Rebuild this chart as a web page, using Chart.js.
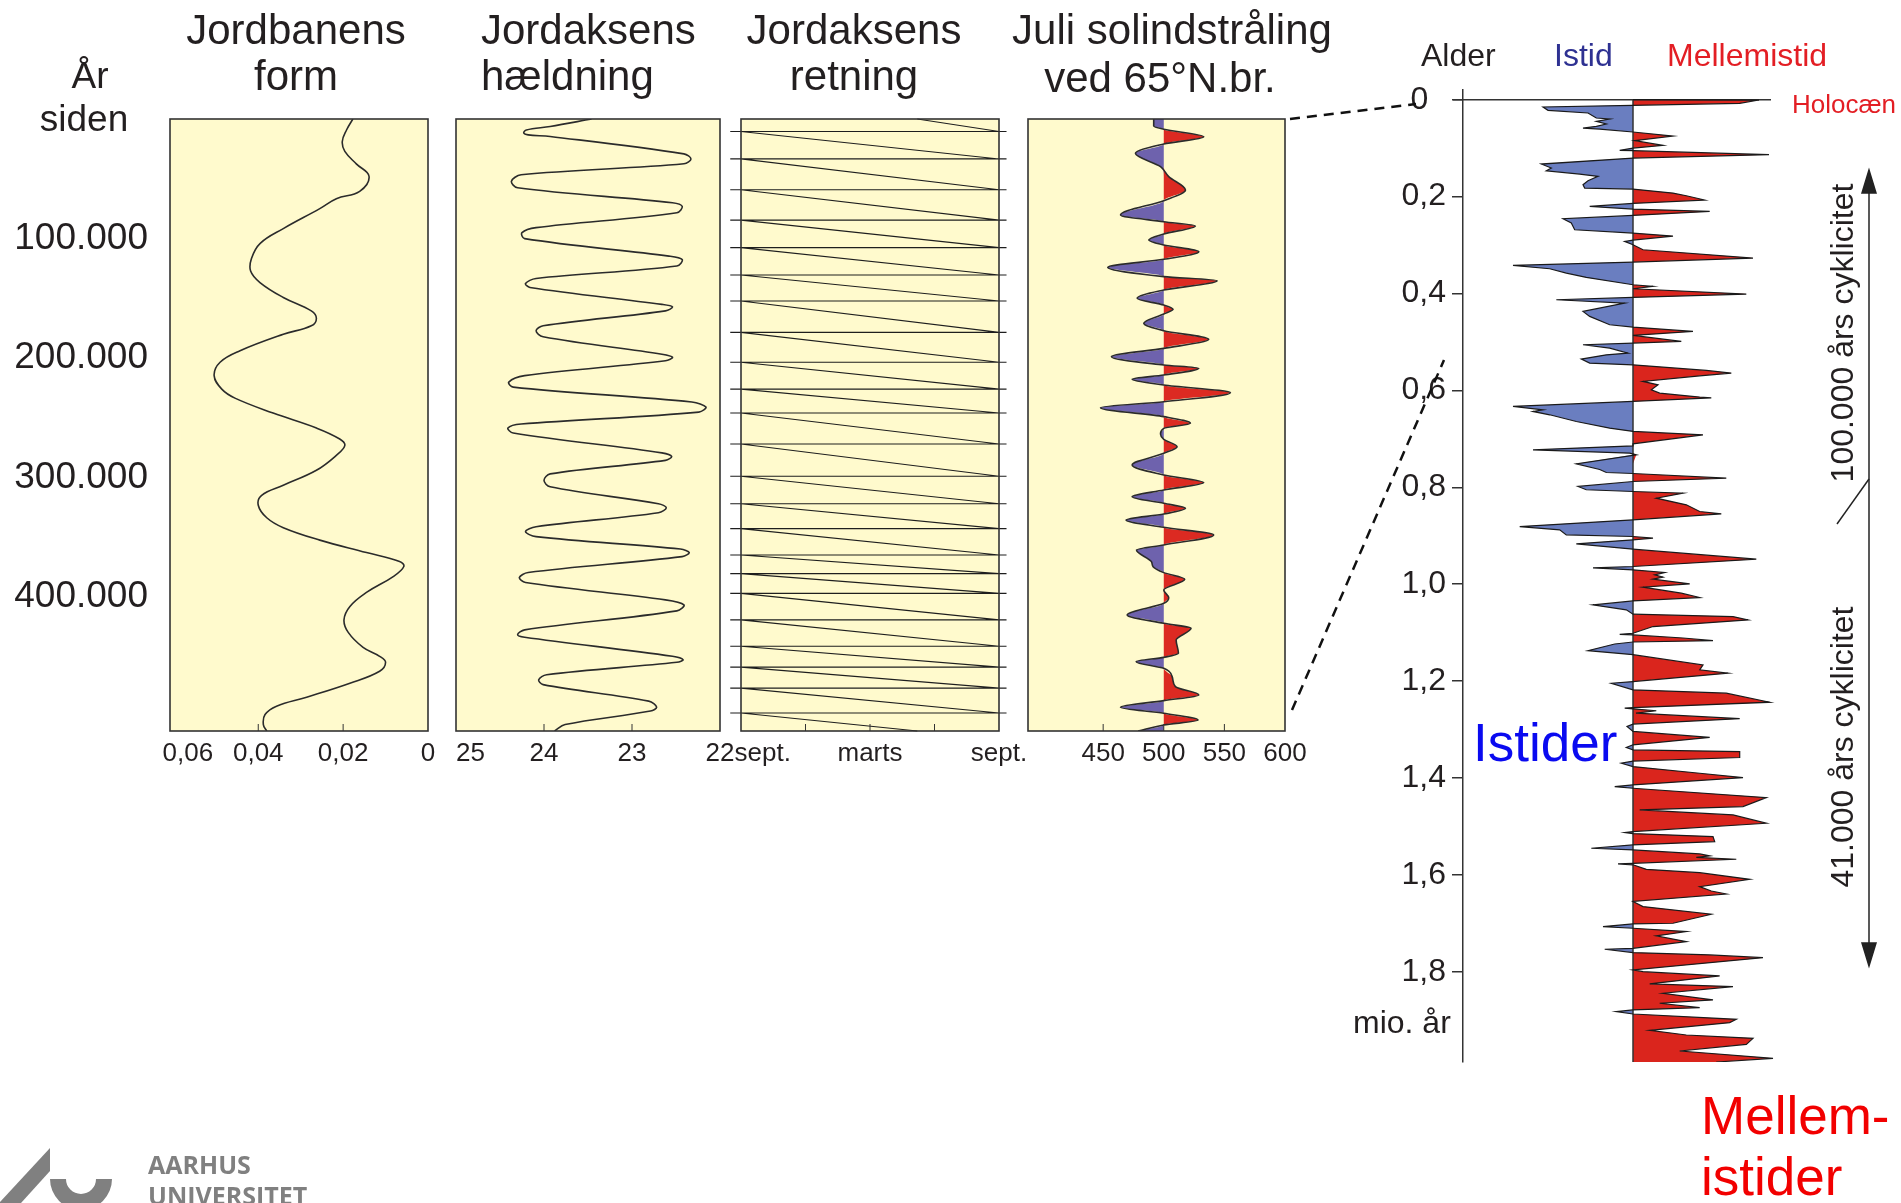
<!DOCTYPE html>
<html>
<head>
<meta charset="utf-8">
<title>Istider og Milankovitch-cykler</title>
<script src="https://cdn.jsdelivr.net/npm/chart.js@4.4.1/dist/chart.umd.min.js"></script>
<style>
  html, body { margin: 0; padding: 0; background: #fff; }
  #page { position: relative; width: 1901px; height: 1203px; overflow: hidden;
          font-family: "Liberation Sans", Arial, sans-serif; color: #231f20; }
  #page canvas { position: absolute; }
  .txt { position: absolute; white-space: nowrap; line-height: 1; transform: translateY(-50%); }
  .mid { transform: translate(-50%, -50%); }
  .vert { transform: translate(-50%, -50%) rotate(-90deg); }
  svg { position: absolute; left: 0; top: 0; }
</style>
</head>
<body>
<div id="page">
  <canvas id="eccChart" width="470" height="800" style="left:0px;top:0px"></canvas>
  <canvas id="oblChart" width="384" height="800" style="left:396px;top:0px"></canvas>
  <canvas id="precChart" width="378" height="800" style="left:681px;top:0px"></canvas>
  <canvas id="insolChart" width="377" height="800" style="left:968px;top:0px"></canvas>
  <canvas id="climateChart" width="500" height="1032" style="left:1330px;top:60px"></canvas>

  <!-- overskrifter -->
  <div class="txt mid" style="left:90px;top:75px;font-size:37px">År</div>
  <div class="txt mid" style="left:84px;top:118px;font-size:37px">siden</div>
  <div class="txt mid" style="left:296px;top:30px;font-size:42px">Jordbanens</div>
  <div class="txt mid" style="left:296px;top:76px;font-size:42px">form</div>
  <div class="txt" style="left:481px;top:30px;font-size:42px">Jordaksens</div>
  <div class="txt" style="left:481px;top:76px;font-size:42px">hældning</div>
  <div class="txt mid" style="left:854px;top:30px;font-size:42px">Jordaksens</div>
  <div class="txt mid" style="left:854px;top:76px;font-size:42px">retning</div>
  <div class="txt mid" style="left:1172px;top:30px;font-size:42px">Juli solindstråling</div>
  <div class="txt mid" style="left:1160px;top:78px;font-size:42px">ved 65°N.br.</div>

  <div class="txt" style="left:1421px;top:55px;font-size:32px">Alder</div>
  <div class="txt" style="left:1554px;top:55px;font-size:32px;color:#2e3192">Istid</div>
  <div class="txt" style="left:1667px;top:55px;font-size:32px;color:#e31e24">Mellemistid</div>
  <div class="txt" style="left:1792px;top:104px;font-size:26px;color:#e31e24">Holocæn</div>
  <div class="txt" style="left:1353px;top:1022px;font-size:32px">mio. år</div>
  <div class="txt" style="left:1473px;top:742px;font-size:53px;color:#0a0af0">Istider</div>
  <div class="txt" style="left:1701px;top:1115px;font-size:53px;color:#f20000">Mellem-</div>
  <div class="txt" style="left:1701px;top:1176px;font-size:53px;color:#f20000">istider</div>
  <div class="txt vert" style="left:1842px;top:333px;font-size:32px">100.000 års cyklicitet</div>
  <div class="txt vert" style="left:1842px;top:747px;font-size:32px">41.000 års cyklicitet</div>

  <svg width="1901" height="1203">
    <g stroke="#111" stroke-width="2.5" stroke-dasharray="10 7" fill="none">
      <line x1="1290" y1="119" x2="1416" y2="104"/>
      <line x1="1292" y1="710" x2="1444" y2="360"/>
    </g>
    <g stroke="#222" stroke-width="1.5" fill="#222">
      <line x1="1869" y1="185" x2="1869" y2="952"/>
      <line x1="1837" y1="524" x2="1869" y2="479"/>
      <polygon points="1869,170 1862,193 1876,193"/>
      <polygon points="1869,966 1862,943 1876,943"/>
    </g>
    <g fill="#808080">
      <polygon points="50,1148 50,1171 21,1203 0,1203 0,1202"/>
      <path d="M50,1179 A31,31 0 0 0 112,1179 L96,1179 A15,15 0 0 1 66,1179 Z"/>
      <text x="148" y="1174" font-family="'Open Sans', sans-serif" font-weight="700" font-size="25">AARHUS</text>
      <text x="148" y="1205" font-family="'Open Sans', sans-serif" font-weight="700" font-size="25">UNIVERSITET</text>
    </g>
  </svg>
</div>

<script>
// fælles tidsakse for de fire paneler (tusind år siden)
const ageTicks = [100, 200, 300, 400];
const ageTickLabels = ['100.000', '200.000', '300.000', '400.000'];

// Jordbanens form (excentricitet): [tusind år, værdi]
const eccentricity = [
  [0, 0.0177], [9.2, 0.0192], [18.8, 0.0202], [27.1, 0.0196], [37.5, 0.0169], [47.9, 0.0139],
  [60.5, 0.0161], [66.7, 0.0216], [75, 0.0255], [91.7, 0.0341], [104.2, 0.0396], [116.7, 0.0416],
  [127.2, 0.0418], [136.8, 0.0396], [149.3, 0.0341], [160.5, 0.0275], [166.8, 0.0263], [173, 0.0275],
  [180.1, 0.0341], [193.9, 0.0443], [203.5, 0.0490], [214.7, 0.0504], [226, 0.0486], [233.5, 0.0455],
  [246, 0.0365], [258.5, 0.0263], [267.7, 0.0208], [273.1, 0.0196], [281.4, 0.0216], [293.9, 0.0263],
  [306.4, 0.0341], [314.8, 0.0392], [323.1, 0.0400], [333.6, 0.0380], [341.9, 0.0341], [352.3, 0.0255],
  [362.7, 0.0145], [370.2, 0.0067], [374.4, 0.0057], [382.8, 0.0082], [396.1, 0.0145], [407.8, 0.0184],
  [419, 0.0198], [429.5, 0.0188], [442, 0.0153], [449.5, 0.0114], [454.5, 0.0100], [462, 0.0114],
  [472, 0.0184], [483.7, 0.0286], [491.2, 0.0357], [498.2, 0.0384], [506.6, 0.0388], [512, 0.0380]
];
const eccTicks = [0, 0.02, 0.04, 0.06];
const eccTickLabels = ['0', '0,02', '0,04', '    0,06'];

// Jordaksens hældning (grader)
const obliquity = [
  [0, 23.46], [6.3, 23.93], [9.2, 24.20], [11.7, 24.23], [13.3, 24.18], [14.6, 23.93],
  [29.2, 22.41], [33.4, 22.33], [37.5, 22.41], [46.7, 24.26], [52.1, 24.37], [57.5, 24.30],
  [70.0, 22.54], [73.0, 22.43], [78.4, 22.49], [90.9, 24.09], [95.1, 24.25], [100.1, 24.22],
  [114.7, 22.58], [117.6, 22.43], [123.0, 22.49], [133.4, 24.09], [137.6, 24.21], [140.9, 24.16],
  [155.1, 22.66], [157.2, 22.54], [160.5, 22.62], [173.0, 24.01], [177.2, 24.09], [182.2, 24.01],
  [196.8, 22.66], [199.3, 22.54], [202.2, 22.62], [214.7, 24.22], [220.1, 24.40], [224.3, 24.35],
  [236.8, 22.32], [241.0, 22.16], [245.2, 22.24], [255.2, 24.26], [258.5, 24.41], [262.7, 24.35],
  [279.3, 22.66], [282.3, 22.55], [285.6, 22.62], [296.9, 23.93], [302.3, 24.00], [307.7, 23.93],
  [321.9, 22.70], [325.2, 22.61], [329.4, 22.70], [341.1, 24.09], [345.2, 24.21], [349.4, 24.09],
  [359.8, 22.45], [362.7, 22.35], [366.1, 22.43], [379.4, 24.18], [383.6, 24.28], [387.8, 24.21],
  [402.3, 22.62], [406.5, 22.41], [411.5, 22.49], [427.4, 24.22], [431.5, 24.30], [433.6, 24.22],
  [449.5, 22.54], [452.4, 22.42], [454.5, 22.49], [464.9, 23.97], [469.1, 24.06], [473.2, 24.01],
  [487.0, 22.81], [492.0, 22.72], [495.3, 22.79], [506.6, 23.76], [512.0, 23.88]
];
const oblTicks = [22, 23, 24, 25];
const oblTickLabels = ['22', '23', '24', '    25'];

// Jordaksens retning: tidspunkter (tusind år) hvor kurven springer tilbage til sept.
const precessionJumps = [10.4, 33.4, 59.2, 84.6, 107.6, 130.5, 152.2, 178.5, 203.5, 226, 246, 271.9,
  298.9, 321.9, 342.7, 364.8, 380.3, 396.9, 419, 441.1, 458.6, 476.1, 497];
const precessionStart = 8.2;  // måneder efter sept. ved år 0
const precessionEnd = 8.2;    // måneder efter sept. ved 512.000 år
const precTicks = [0, 3, 6, 9, 12];
const precTickLabels = ['      sept.', '', 'marts', '', 'sept.'];

// Juli solindstråling ved 65°N (W/m2)
const insolation = [
  [0, 491.7], [5.9, 491.7], [8.6, 500], [14.8, 533], [20.9, 500], [28.7, 476.6], [39.9, 497.3],
  [48.2, 504.1], [59.4, 517.9], [68.3, 500], [80.3, 464.3], [85.9, 500], [89.5, 526.1], [96.2, 500],
  [101.2, 487.6], [105.4, 500], [111, 528.9], [117.4, 500], [124.1, 453.8], [131.9, 500], [135.3, 544],
  [143.1, 500], [150, 478], [155.6, 500], [159.2, 507.7], [163.1, 500], [170.9, 483.5], [177.1, 500],
  [184.3, 537.1], [191.9, 500], [198.8, 456.8], [205.8, 500], [208.6, 528.9], [214.2, 500],
  [217.8, 473.9], [222.5, 500], [229, 555], [236.5, 500], [241.5, 447.8], [249, 500], [254.6, 522],
  [258.8, 500], [263.5, 497.3], [268, 500], [274.1, 511], [279.7, 500], [289.5, 473.9], [297.8, 500],
  [304.2, 533], [310.4, 500], [316, 473.9], [321.5, 500], [325.7, 517.9], [330.5, 500], [335.5, 468.9],
  [341.6, 500], [348, 541.2], [356.4, 500], [360.6, 477.5], [370.3, 489.8], [374.5, 491.2], [379.5, 500],
  [385.1, 517.3], [394, 500], [400.5, 504.1], [405.2, 500], [415, 469.8], [421.9, 500], [426.1, 522.5],
  [435.9, 510.2], [447, 512.1], [450.4, 500], [454, 477.2], [459.6, 500], [466.5, 506.9], [474.9, 509.6],
  [481.9, 528.9], [486.6, 500], [492.2, 464.3], [497.2, 500], [502.8, 528.3], [507, 500], [512, 478.8]
];
const insolMean = 500;
const insolTicks = [450, 500, 550, 600];

// istid/mellemistid-kurven: [mio. år, udslag] (negativ = istid, positiv = mellemistid)
const climateRecord = [
  [0, 0], [0.0007, 12.6], [0.0076, 10.67], [0.0117, 0], [0.0151, -9], [0.022, -8.5], [0.0275, -4.5],
  [0.0378, -3.67], [0.0399, -2.33], [0.0447, -3.67], [0.0502, -2.67], [0.055, -3.67], [0.0585, -5],
  [0.0606, -3.33], [0.0667, 0], [0.075, 4], [0.0846, 0.17], [0.0943, 3], [0.0998, 0], [0.1046, -1.33],
  [0.1053, 0], [0.1135, 13.6], [0.1204, 0], [0.1328, -9.17], [0.1411, -8.17], [0.1466, -8.67],
  [0.1535, -5.33], [0.1583, -3.5], [0.1672, -4.5], [0.1755, -5], [0.1824, -4.83], [0.1844, 0],
  [0.1927, 4], [0.1982, 5.33], [0.2071, 7.17], [0.214, 0], [0.2202, -4.33], [0.2257, 0], [0.2305, 7.67],
  [0.2388, 0], [0.2457, -7], [0.2546, -6.17], [0.2684, -5.83], [0.2753, 0], [0.2814, 4], [0.2897, 0],
  [0.2925, -0.83], [0.2993, 0], [0.3097, 1], [0.3269, 12], [0.3351, 0], [0.342, -12], [0.3489, -8.33],
  [0.3578, -6.67], [0.3668, -4.67], [0.3819, 0], [0.3854, 2], [0.3902, 0], [0.4012, 11.33], [0.4081, 0],
  [0.4129, -7.67], [0.4198, -0.83], [0.437, -5], [0.4473, -4.33], [0.4645, -2.33], [0.4693, 0],
  [0.4783, 6], [0.4865, 0], [0.4989, 4.83], [0.5023, 0], [0.5058, -5], [0.5127, -2.33], [0.523, -0.5],
  [0.5265, -2.67], [0.5354, -5.17], [0.5437, -4.33], [0.5471, 0], [0.5588, 7.33], [0.5643, 9.83],
  [0.5698, 6.67], [0.5815, 1], [0.5884, 2.5], [0.5987, 1.83], [0.6056, 2.67], [0.6138, 6.67],
  [0.6152, 7.83], [0.6228, 0], [0.6331, -12], [0.64, -9], [0.6434, -10], [0.6503, -8.33],
  [0.6641, -5.67], [0.6779, -2.33], [0.6847, 0], [0.6916, 7], [0.7102, 0], [0.7143, 0], [0.7226, -10],
  [0.7295, -0.33], [0.7329, 0.33], [0.7515, -5.67], [0.7632, -3.33], [0.7694, -2.67], [0.7715, 0],
  [0.7811, 9.33], [0.788, 0], [0.7982, -5.5], [0.805, -4.67], [0.8086, 0], [0.812, 5], [0.8224, 2.33],
  [0.8361, 5.33], [0.8499, 6.67], [0.8547, 8.83], [0.8671, 0], [0.8809, -11.33], [0.8877, -7.33],
  [0.8981, -6.67], [0.9015, 0], [0.905, 2], [0.9084, 0], [0.9166, -5.67], [0.9276, 0], [0.9483, 12.33],
  [0.9634, 0], [0.9661, -4], [0.9703, 0], [0.9758, 3.17], [0.9806, 2.17], [0.9854, 3], [0.9896, 2],
  [0.9992, 5.67], [1.0061, 1], [1.0185, 4.83], [1.0274, 6.67], [1.0344, 0], [1.0426, -4],
  [1.0529, -0.67], [1.0618, 0], [1.0667, 10], [1.0736, 11.5], [1.0873, 2], [1.1011, 0], [1.1033, -1.33],
  [1.1047, 0], [1.111, 5], [1.1165, 8], [1.1192, 0], [1.1233, -1.83], [1.137, -4.5], [1.1454, 0],
  [1.1665, 7], [1.1767, 6.67], [1.1836, 9.5], [1.2008, 0], [1.2043, -2.17], [1.218, 0], [1.2249, 9.33],
  [1.2435, 13.67], [1.2547, 0], [1.2558, -0.83], [1.2572, 0], [1.2611, 2.33], [1.2661, 0.3],
  [1.2774, 10.67], [1.2886, 0], [1.2935, -0.6], [1.3037, 0], [1.3161, 7.67], [1.3314, 0],
  [1.337, -0.67], [1.3419, 0], [1.3454, 10.67], [1.3576, 10.67], [1.3649, 0], [1.3694, -1.17],
  [1.3763, 0], [1.3901, 6.67], [1.3991, 11], [1.4142, 0], [1.4177, -1.83], [1.421, 0], [1.4403, 13.33],
  [1.4589, 11], [1.4658, 0.67], [1.4761, 10], [1.4933, 13.33], [1.5105, 0], [1.5125, -0.8],
  [1.5145, 0], [1.5208, 8], [1.5311, 8.17], [1.538, 0], [1.5449, -4.17], [1.5483, 0], [1.5566, 6.67],
  [1.5607, 7.67], [1.5635, 6.33], [1.5676, 10.33], [1.5759, 0], [1.5773, -1.5], [1.579, 0],
  [1.5883, 1.33], [1.5952, 6.67], [1.609, 11.67], [1.6241, 6.67], [1.6331, 7.83], [1.6393, 9.33],
  [1.6548, 0], [1.6653, 1], [1.6811, 7.83], [1.6997, 4], [1.7011, 0], [1.7066, -3], [1.71, 0],
  [1.7169, 5.33], [1.7258, 2.33], [1.7375, 5.33], [1.7513, 0], [1.7533, -2.83], [1.7602, 0],
  [1.7651, 7.67], [1.7706, 13], [1.796, 0], [1.7995, 1], [1.8083, 8.67], [1.8249, 1.67], [1.8304, 10],
  [1.8441, 3], [1.8579, 8], [1.8648, 2.67], [1.8738, 6.67], [1.8786, 0], [1.882, -1.67], [1.8869, 0],
  [1.8979, 10.33], [1.9048, 9.67], [1.9206, 1.67], [1.9303, 5.33], [1.9372, 12], [1.9496, 11.33],
  [1.9633, 4.67], [1.9785, 14], [1.986, 8.33]
];
const mioTicks = [0, 0.2, 0.4, 0.6, 0.8, 1.0, 1.2, 1.4, 1.6, 1.8];
const mioTickLabels = ['0  ', '0,2', '0,4', '0,6', '0,8', '1,0', '1,2', '1,4', '1,6', '1,8'];

Chart.defaults.font.family = '"Liberation Sans", Arial, sans-serif';
Chart.defaults.color = '#231f20';
Chart.defaults.animation = false;
Chart.defaults.plugins.legend.display = false;
Chart.defaults.plugins.tooltip.enabled = false;

// gul baggrund, ramme og små indvendige tick-streger
const framePlugin = {
  id: 'frame',
  beforeDraw(chart, args, opts) {
    if (!opts.fill) return;
    const {left, top, width, height} = chart.chartArea;
    chart.ctx.save();
    chart.ctx.fillStyle = opts.fill;
    chart.ctx.fillRect(left, top, width, height);
    chart.ctx.restore();
  },
  afterDatasetsDraw(chart, args, opts) {
    if (!opts.border) return;
    const {left, top, bottom, width, height} = chart.chartArea;
    const ctx = chart.ctx;
    ctx.save();
    ctx.strokeStyle = opts.border;
    ctx.lineWidth = 1.6;
    ctx.strokeRect(left, top, width, height);
    ctx.lineWidth = 1;
    (opts.marks || []).forEach(v => {
      const x = chart.scales.x.getPixelForValue(v);
      ctx.beginPath();
      ctx.moveTo(x, bottom);
      ctx.lineTo(x, bottom - 7);
      ctx.stroke();
    });
    ctx.restore();
  }
};
Chart.register(framePlugin);

const toPoints = (rows) => rows.map(([age, v]) => ({ x: v, y: age }));

function panelChart(id, datasets, axis, showAges) {
  return new Chart(document.getElementById(id), {
    type: 'line',
    data: { datasets },
    options: {
      responsive: false,
      indexAxis: 'y',
      layout: { padding: { top: 119, bottom: 0, left: showAges ? 0 : 60, right: showAges ? 42 : 60 } },
      elements: { point: { radius: 0 } },
      scales: {
        x: {
          type: 'linear',
          min: axis.min,
          max: axis.max,
          reverse: !!axis.reverse,
          afterFit: (s) => { s.height = 69; },
          afterBuildTicks: (s) => { s.ticks = axis.ticks.map(v => ({ value: v })); },
          grid: { display: false, drawTicks: false },
          border: { display: false },
          ticks: {
            autoSkip: false,
            maxRotation: 0,
            padding: 7,
            font: { size: 26, lineHeight: 1.2 },
            callback: (v, i) => axis.labels[i]
          }
        },
        y: {
          type: 'linear',
          min: 0,
          max: 512,
          reverse: true,
          display: showAges,
          afterFit: (s) => { if (showAges) s.width = 170; },
          afterBuildTicks: (s) => { s.ticks = ageTicks.map(v => ({ value: v })); },
          grid: { display: false, drawTicks: false },
          border: { display: false },
          ticks: { padding: 22, font: { size: 37 }, callback: (v, i) => ageTickLabels[i] }
        }
      },
      plugins: {
        frame: { fill: '#fffacd', border: '#333', marks: axis.marks }
      }
    }
  });
}

panelChart('eccChart', [{
  data: toPoints(eccentricity),
  borderColor: '#2b2b2b',
  borderWidth: 1.6,
  tension: 0.4,
  fill: false
}], { min: 0, max: 0.0608, reverse: true, ticks: eccTicks, labels: eccTickLabels, marks: [0.04, 0.02] }, true);

panelChart('oblChart', [{
  data: toPoints(obliquity),
  borderColor: '#2b2b2b',
  borderWidth: 1.6,
  tension: 0.35,
  fill: false
}], { min: 22, max: 25, reverse: true, ticks: oblTicks, labels: oblTickLabels, marks: [24, 23] }, false);

// savtakken: fra sept. (0) til sept. (12) og et vandret spring tilbage
const precessionPoints = [{ x: precessionStart, y: 0 }];
precessionJumps.forEach(age => {
  precessionPoints.push({ x: 12, y: age }, { x: 12.35, y: age }, { x: -0.5, y: age }, { x: 0, y: age });
});
precessionPoints.push({ x: precessionEnd, y: 512 });

panelChart('precChart', [{
  data: precessionPoints,
  borderColor: '#1e1e1e',
  borderWidth: 1.1,
  tension: 0,
  fill: false,
  clip: false
}], { min: 0, max: 12, ticks: precTicks, labels: precTickLabels, marks: [3, 6, 9] }, false);

panelChart('insolChart', [
  {
    data: toPoints(insolation),
    borderColor: '#2b2b2b',
    borderWidth: 1.6,
    cubicInterpolationMode: 'monotone',
    fill: false
  },
  {
    data: insolation.map(([age, v]) => ({ x: Math.max(v, insolMean), y: age })),
    borderWidth: 0,
    borderColor: 'transparent',
    backgroundColor: '#dc2a22',
    cubicInterpolationMode: 'monotone',
    fill: { value: insolMean }
  },
  {
    data: insolation.map(([age, v]) => ({ x: Math.min(v, insolMean), y: age })),
    borderWidth: 0,
    borderColor: 'transparent',
    backgroundColor: '#6e62ad',
    cubicInterpolationMode: 'monotone',
    fill: { value: insolMean }
  }
], { min: 388, max: 600, ticks: insolTicks, labels: insolTicks.map(String), marks: [450, 500, 550] }, false);

new Chart(document.getElementById('climateChart'), {
  type: 'line',
  data: {
    datasets: [
      {
        data: toPoints(climateRecord),
        borderColor: '#1a1a1a',
        borderWidth: 1.2,
        tension: 0,
        fill: false
      },
      {
        data: [{ x: 0, y: 0 }, { x: 0, y: 1.986 }],
        borderColor: '#333',
        borderWidth: 1.5,
        fill: false
      },
      {
        data: [{ x: -18, y: 0 }, { x: 13.8, y: 0 }],
        borderColor: '#333',
        borderWidth: 1.5,
        fill: false,
        clip: false
      },
      {
        data: climateRecord.map(([age, v]) => ({ x: Math.max(v, 0), y: age })),
        borderWidth: 0,
        borderColor: 'transparent',
        backgroundColor: '#da251d',
        tension: 0,
        fill: { value: 0 }
      },
      {
        data: climateRecord.map(([age, v]) => ({ x: Math.min(v, 0), y: age })),
        borderWidth: 0,
        borderColor: 'transparent',
        backgroundColor: '#6a7ec0',
        tension: 0,
        fill: { value: 0 }
      }
    ]
  },
  options: {
    responsive: false,
    indexAxis: 'y',
    layout: { padding: { top: 30, right: 27, bottom: 30, left: 0 } },
    elements: { point: { radius: 0 } },
    scales: {
      x: { type: 'linear', min: -17, max: 17, display: false },
      y: {
        type: 'linear',
        min: -0.02,
        max: 1.986,
        reverse: true,
        afterFit: (s) => { s.width = 133; },
        afterBuildTicks: (s) => { s.ticks = mioTicks.map(v => ({ value: v })); },
        grid: { drawOnChartArea: false, tickLength: 11, color: '#333', lineWidth: 1.5 },
        border: { display: true, color: '#333', width: 1.5 },
        ticks: { padding: 6, font: { size: 32 }, callback: (v, i) => mioTickLabels[i] }
      }
    }
  }
});
</script>
</body>
</html>
